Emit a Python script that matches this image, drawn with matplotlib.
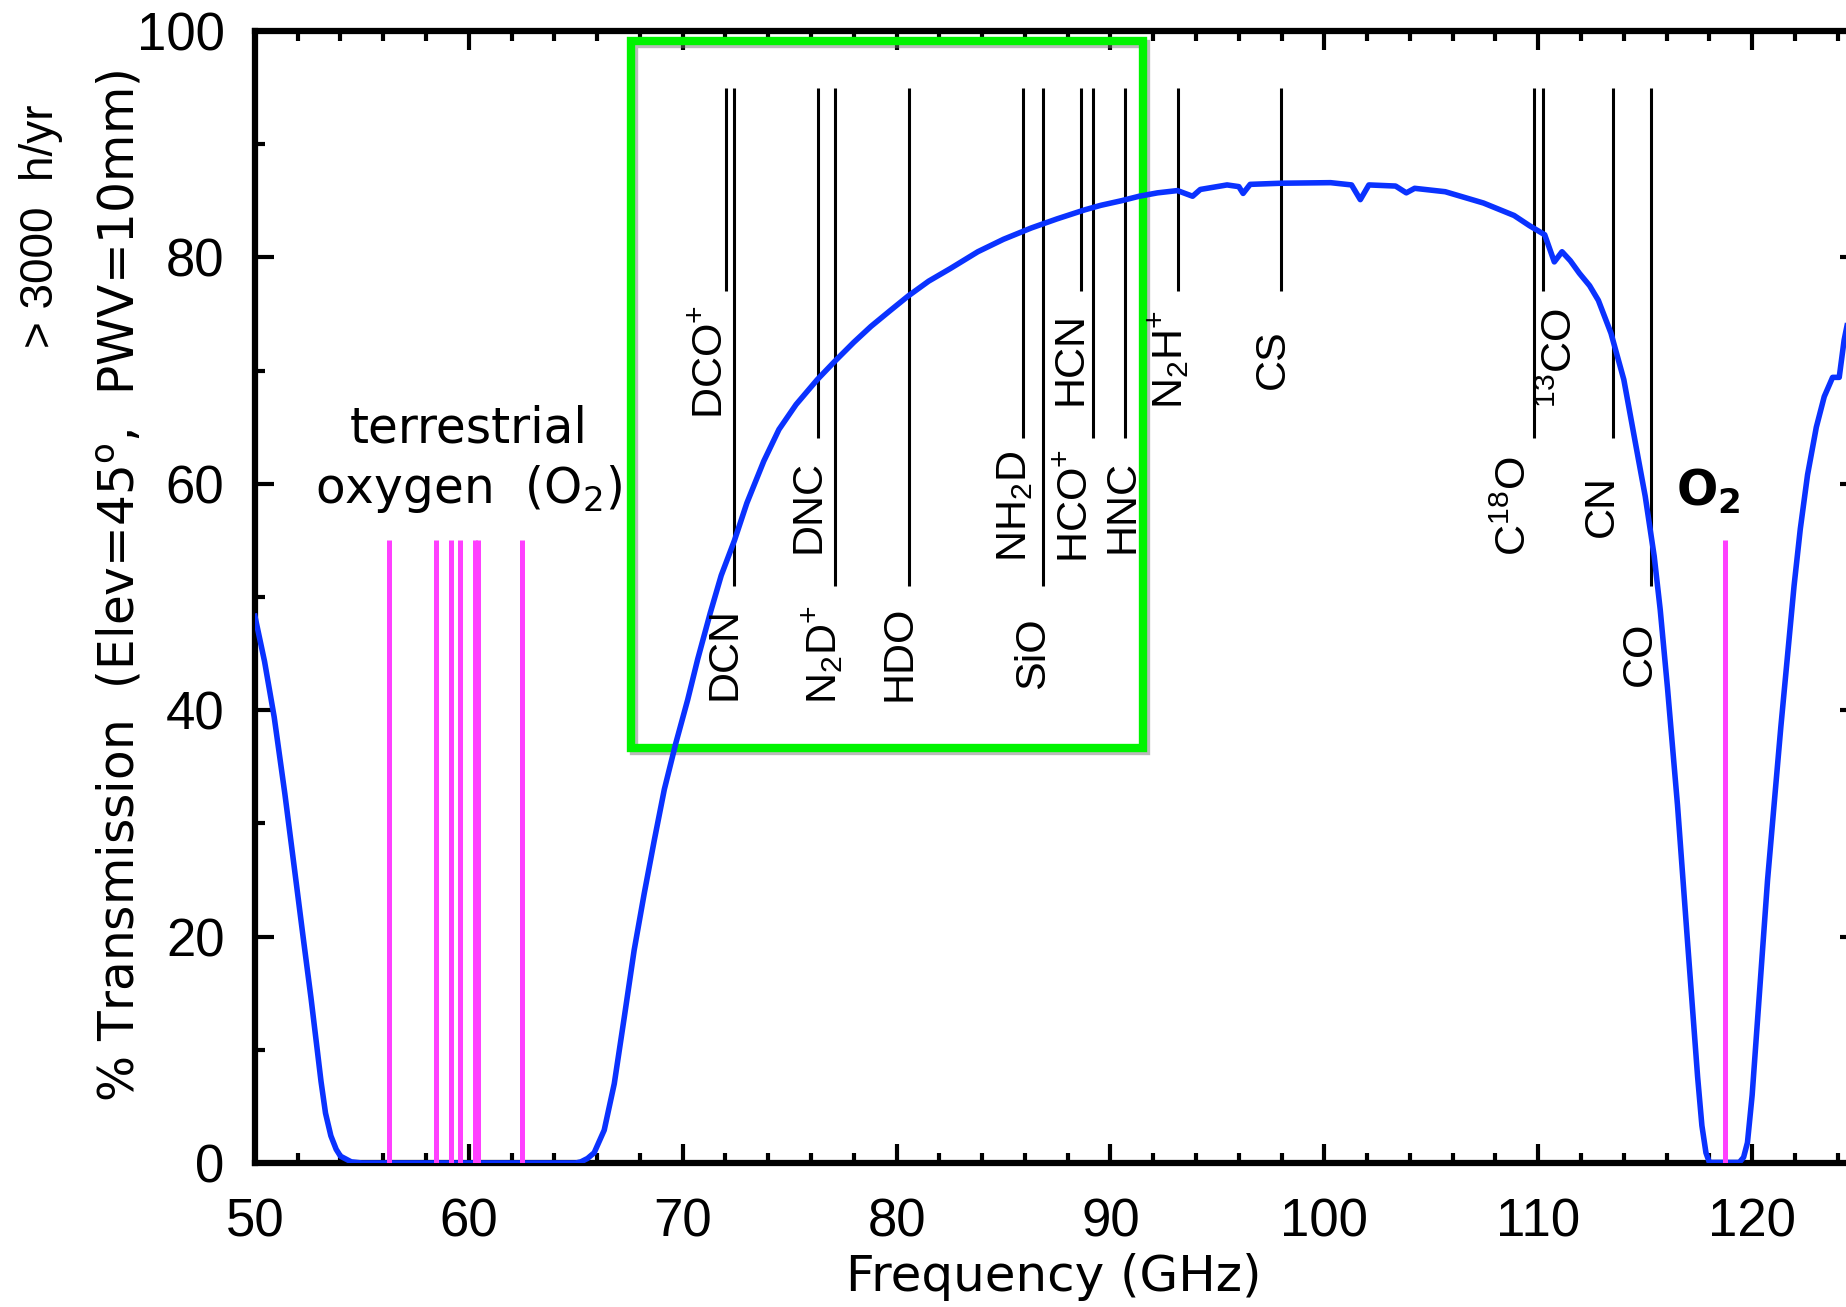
import matplotlib
matplotlib.use("Agg")
import matplotlib.pyplot as plt
import matplotlib.transforms as mtransforms
from matplotlib import font_manager
from matplotlib.patches import Rectangle
from matplotlib.ticker import MultipleLocator

#
# data
#
# transmission curve (GHz, %)
freq = [50.0, 50.45, 50.9, 51.4, 51.84, 52.25, 52.62, 52.9, 53.09, 53.3, 53.55, 53.8, 54.0, 54.5, 55.0,
        65.0, 65.24, 65.55, 65.86, 66.33, 66.80, 67.27, 67.73, 68.2, 68.67, 69.14, 69.68, 70.23,
        70.7, 71.29, 71.8, 72.42, 73.0, 73.79, 74.5, 75.3, 76.29, 77.1, 78.0, 78.8, 79.7, 80.55,
        81.5, 82.5, 83.8, 85.0, 86.3, 87.5, 88.8, 89.55, 90.5, 91.34, 92.2, 93.13, 93.84, 94.2,
        95.45, 96.0, 96.2, 96.53, 97.96, 100.29, 101.27, 101.68, 102.08, 103.33, 103.83, 104.22,
        105.65, 107.44, 108.87, 109.59, 110.30, 110.75, 111.11, 111.5, 111.92, 112.4, 112.81,
        113.4, 114.0, 114.6, 115.0, 115.42, 115.7, 116.04, 116.51, 116.98, 117.45, 117.65, 117.84,
        118.0, 119.4, 119.6, 119.78, 120.0, 120.25, 120.72, 121.34, 121.96, 122.25, 122.59, 123.0,
        123.37, 123.76, 124.07, 124.3, 124.6]
trans = [48.3, 44.3, 39.4, 32.6, 26.1, 20.0, 14.6, 10.2, 7.2, 4.4, 2.4, 1.2, 0.6, 0.1, 0.0,
         0.0, 0.1, 0.4, 0.9, 2.9, 7.0, 12.9, 18.8, 23.8, 28.5, 33.0, 37.1, 40.9,
         44.5, 48.6, 51.9, 55.0, 58.3, 62.0, 64.8, 67.0, 69.2, 70.8, 72.5, 73.9, 75.3, 76.6,
         77.9, 79.0, 80.5, 81.6, 82.6, 83.4, 84.2, 84.6, 85.0, 85.4, 85.7, 85.9, 85.4, 86.0,
         86.4, 86.25, 85.65, 86.45, 86.55, 86.6, 86.4, 85.1, 86.4, 86.3, 85.7, 86.1,
         85.8, 84.8, 83.7, 82.8, 82.0, 79.6, 80.5, 79.7, 78.6, 77.5, 76.2,
         73.3, 69.2, 63.0, 58.9, 53.6, 48.9, 42.0, 31.6, 19.5, 7.6, 3.3, 0.9,
         0.05, 0.05, 0.5, 1.8, 6.0, 12.6, 25.0, 38.5, 51.0, 56.0, 60.8, 65.0,
         67.7, 69.4, 69.4, 72.7, 75.5]

# terrestrial O2 lines (GHz)
o2_freq = [56.26, 58.45, 59.16, 59.59, 60.31, 60.43, 62.49, 118.75]
o2_top = 55

# molecular lines
mol_freq = [72.04, 72.41, 76.31, 77.11, 80.58, 85.93, 86.85, 88.63, 89.19, 90.66,
            93.17, 97.98, 109.78, 110.20, 113.49, 115.27]
mol_bottom = [77, 51, 64, 51, 51, 64, 51, 77, 64, 64, 77, 77, 64, 77, 64, 51]
mol_top = 95
mol_names = [r"DCO$^{\mathrm{+}}$", "DCN", "DNC", r"N$_{\mathrm{2}}$D$^{\mathrm{+}}$", "HDO",
             r"NH$_{\mathrm{2}}$D", "SiO", "HCN", r"HCO$^{\mathrm{+}}$", "HNC",
             r"N$_{\mathrm{2}}$H$^{\mathrm{+}}$", "CS", r"C$^{\mathrm{18}}$O", r"$^{\mathrm{13}}$CO",
             "CN", "CO"]
mol_label_x = [71.35, 71.95, 75.86, 76.58, 80.13, 85.52, 86.38, 88.15, 88.40, 90.57,
               92.75, 97.59, 108.9, 111.06, 112.96, 114.75]
mol_label_y = [70.8, 45.0, 58.0, 44.9, 45.0, 58.0, 45.0, 71.1, 58.0, 58.0,
               71.0, 71.0, 58.0, 71.1, 58.0, 45.0]

# highlighted band
box_x = [67.6, 91.5]
box_y = [36.7, 99.1]

#
# fonts
#
names = {f.name for f in font_manager.fontManager.ttflist}
mol_font = "Liberation Sans Narrow" if "Liberation Sans Narrow" in names else "Liberation Sans"
plt.rcParams["mathtext.fontset"] = "custom"
plt.rcParams["mathtext.rm"] = mol_font
plt.rcParams["mathtext.it"] = mol_font
plt.rcParams["mathtext.bf"] = mol_font
geo_font = "DejaVu Sans"

fig = plt.figure(figsize=(18.46, 13.07), dpi=100)
ax = fig.add_axes([0.1381, 0.1102, 0.8690, 0.8661])

# molecular lines + labels
ax.vlines(mol_freq, mol_bottom, mol_top, color="black", linewidth=2.2, zorder=3)
for name, lx, ly in zip(mol_names, mol_label_x, mol_label_y):
    ax.text(lx, ly, name, rotation=90, ha="center", va="center", fontsize=31,
            family=mol_font, zorder=6)

# green box with a little shadow
shadow = mtransforms.offset_copy(ax.transData, fig=fig, x=3, y=-3, units="dots")
ax.add_patch(Rectangle((box_x[0], box_y[0]), box_x[1] - box_x[0], box_y[1] - box_y[0],
                       fill=False, edgecolor="#777777", linewidth=6, alpha=0.5,
                       transform=shadow, zorder=2))
ax.add_patch(Rectangle((box_x[0], box_y[0]), box_x[1] - box_x[0], box_y[1] - box_y[0],
                       fill=False, edgecolor="#00f400", linewidth=6, zorder=2.5))

# transmission curve
ax.plot(freq, trans, color="#0a32ff", linewidth=4, zorder=4, solid_joinstyle="round")

# O2 lines
ax.vlines(o2_freq, 0, o2_top, color="#ff40ff", linewidth=3.6, zorder=5)

ax.text(60.0, 64.9, "terrestrial", ha="center", va="center", fontsize=35, family=geo_font)
ax.text(60.0, 59.5, r"oxygen  (O$_2$)", ha="center", va="center", fontsize=35,
        family=geo_font, math_fontfamily="dejavusans")
ax.text(117.93, 59.3, r"O$_\mathbf{2}$", ha="center", va="center", fontsize=35,
        family=geo_font, fontweight="bold", math_fontfamily="dejavusans")

ax.set_xlim(50, 125)
ax.set_ylim(0, 100)
ax.xaxis.set_major_locator(MultipleLocator(10))
ax.xaxis.set_minor_locator(MultipleLocator(2))
ax.yaxis.set_major_locator(MultipleLocator(20))
ax.yaxis.set_minor_locator(MultipleLocator(10))
ax.tick_params(which="both", direction="in", top=True, right=True, width=3, color="black")
ax.tick_params(which="major", length=14)
ax.tick_params(which="minor", length=7)
ax.tick_params(axis="x", which="major", pad=25)
ax.tick_params(axis="y", which="major", pad=22)
for lab in ax.get_xticklabels() + ax.get_yticklabels():
    lab.set_fontfamily("Liberation Sans")
    lab.set_fontsize(38)
for sp in ax.spines.values():
    sp.set_linewidth(4.5)

fig.text(0.571, 0.0230, "Frequency (GHz)", ha="center", va="center", fontsize=36, family=geo_font)
fig.text(0.065, 0.5517, r"% Transmission  (Elev=45$^\mathrm{o}$,  PWV=10mm)", rotation=90,
         ha="center", va="center", fontsize=35, family=geo_font, math_fontfamily="dejavusans")
fig.text(0.0222, 0.8271, "> 3000  h/yr", rotation=90, ha="center", va="center", fontsize=33,
         family="Liberation Sans")

fig.savefig("out.png", dpi=100)
